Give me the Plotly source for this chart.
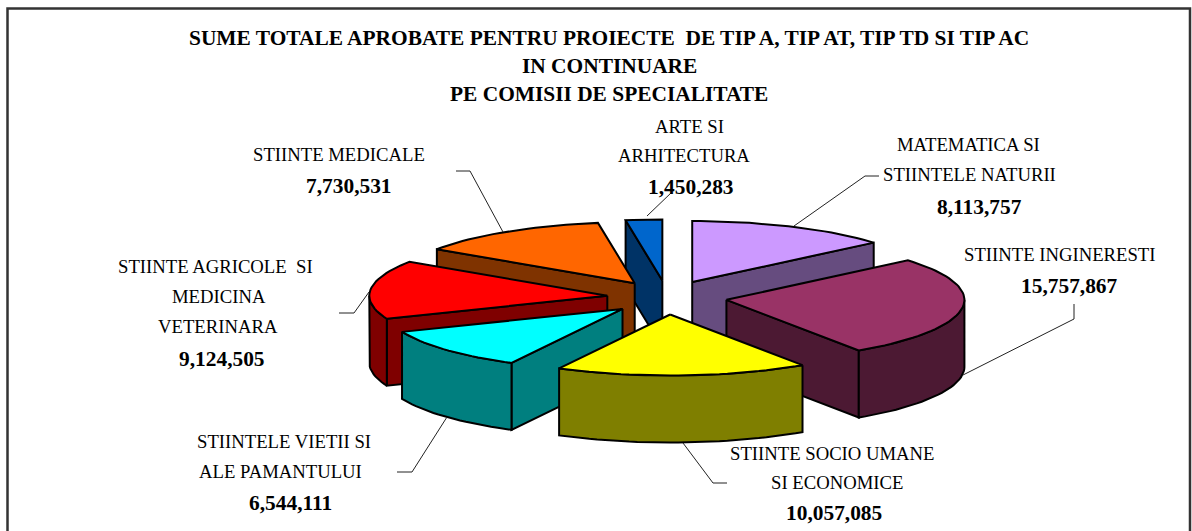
import math
import plotly.graph_objects as go

categories = ["MATEMATICA SI STIINTELE NATURII", "STIINTE INGINERESTI", "STIINTE SOCIO UMANE SI ECONOMICE",
              "STIINTELE VIETII SI ALE PAMANTULUI", "STIINTE AGRICOLE SI MEDICINA VETERINARA",
              "STIINTE MEDICALE", "ARTE SI ARHITECTURA"]
values = [8113757, 15757867, 10057085, 6544111, 9124505, 7730531, 1450283]
colors = ["#CC99FF", "#993366", "#FFFF00", "#00FFFF", "#FF0000", "#FF6600", "#0066CC"]
title_lines = ["SUME TOTALE APROBATE PENTRU PROIECTE\u00a0 DE TIP A, TIP AT, TIP TD SI TIP AC",
               "IN CONTINUARE", "PE COMISII DE SPECIALITATE"]

W, H = 1192, 531
CX, CY = 667, 297.5      # pie centre
RX, RY = 238, 61         # projected ellipse radii
EX, EY = 60, 17          # explode offset
DEPTH = 67               # wall height
SERIF = "Liberation Serif"

# back to front paint order
paint_order = [6, 0, 5, 1, 4, 3, 2]

# label lines: (text, x centre, y centre, bold)
label_layout = [
    ("ARTE SI", 689.5, 126, False), ("ARHITECTURA", 683.5, 155, False), ("1,450,283", 690.5, 187, True),
    ("MATEMATICA SI", 968, 144, False), ("STIINTELE NATURII", 969.5, 174, False), ("8,113,757", 979.5, 207, True),
    ("STIINTE INGINERESTI", 1060, 254, False), ("15,757,867", 1069.5, 286, True),
    ("STIINTE MEDICALE", 338.5, 154, False), ("7,730,531", 348.5, 186, True),
    ("STIINTE AGRICOLE\u00a0 SI", 215, 266, False), ("MEDICINA", 219, 296, False),
    ("VETERINARA", 218, 326, False), ("9,124,505", 221.5, 359, True),
    ("STIINTELE VIETII SI", 284, 441, False), ("ALE PAMANTULUI", 280.5, 471, False), ("6,544,111", 290, 503, True),
    ("STIINTE SOCIO UMANE", 832.5, 453, False), ("SI ECONOMICE", 836.5, 482, False), ("10,057,085", 833.5, 513, True),
]
leaders = [
    [(647, 216), (672, 192)],
    [(794, 226), (865, 176), (879, 176)],
    [(963, 375), (1074, 319), (1074, 304)],
    [(683, 443), (713, 483), (727, 483)],
    [(447, 417), (412, 472), (397, 472)],
    [(369, 292), (354, 313), (339, 313)],
    [(503, 232), (470, 171), (456, 171)],
]


def darker(hex_color):
    r, g, b = (int(hex_color[i:i + 2], 16) for i in (1, 3, 5))
    return "#%02X%02X%02X" % (r // 2, g // 2, b // 2)


def polygon(fig, pts, fill):
    fig.add_trace(go.Scatter(
        x=[p[0] for p in pts] + [pts[0][0]], y=[p[1] for p in pts] + [pts[0][1]],
        mode="lines", fill="toself", fillcolor=fill,
        line=dict(color="#000000", width=2), hoverinfo="skip", showlegend=False))


def rim(ax, ay, t0, t1):
    n = max(2, int(abs(t1 - t0) / 2) + 1)
    out = []
    for i in range(n + 1):
        t = math.radians(t0 + (t1 - t0) * i / n)
        out.append((ax + RX * math.sin(t), ay - RY * math.cos(t)))
    return out


def down(pts):
    return [(x, y + DEPTH) for x, y in pts]


fig = go.Figure()
total = sum(values)
spans = []
acc = 0.0
for v in values:
    spans.append((acc, acc + v / total * 360))
    acc += v / total * 360

for i in paint_order:
    t0, t1 = spans[i]
    m = math.radians((t0 + t1) / 2)
    ax, ay = CX + EX * math.sin(m), CY - EY * math.cos(m)
    top = rim(ax, ay, t0, t1)
    wall = darker(colors[i])
    if top[0][0] < ax - 0.01:
        polygon(fig, [(ax, ay), top[0], (top[0][0], top[0][1] + DEPTH), (ax, ay + DEPTH)], wall)
    if top[-1][0] > ax + 0.01:
        polygon(fig, [(ax, ay), top[-1], (top[-1][0], top[-1][1] + DEPTH), (ax, ay + DEPTH)], wall)
    a0, a1 = max(t0, 90), min(t1, 270)
    if a1 > a0:
        arc = rim(ax, ay, a0, a1)
        polygon(fig, arc + down(arc)[::-1], wall)
    polygon(fig, [(ax, ay)] + top, colors[i])

for pts in leaders:
    fig.add_trace(go.Scatter(x=[p[0] for p in pts], y=[p[1] for p in pts], mode="lines",
                             line=dict(color="#222222", width=1), hoverinfo="skip", showlegend=False))

annotations = []
for text, yc in zip(title_lines, (38, 66, 94)):
    annotations.append(dict(x=609, y=yc, text="<b>%s</b>" % text, showarrow=False, xanchor="center",
                            yanchor="middle", font=dict(family=SERIF, size=21.4, color="#000000")))
for text, x, y, bold in label_layout:
    annotations.append(dict(x=x, y=y, text="<b>%s</b>" % text if bold else text, showarrow=False,
                            xanchor="center", yanchor="middle",
                            font=dict(family=SERIF, size=21.4 if bold else 18.7, color="#000000")))

fig.update_layout(
    width=W, height=H, margin=dict(l=0, r=0, t=0, b=0), paper_bgcolor="#FFFFFF", plot_bgcolor="#FFFFFF",
    showlegend=False, annotations=annotations,
    xaxis=dict(range=[0, W], visible=False, fixedrange=True),
    yaxis=dict(range=[H, 0], visible=False, fixedrange=True),
    shapes=[dict(type="rect", xref="x", yref="y", x0=7.5, y0=8.5, x1=1190, y1=560, line=dict(color="#333333", width=2.5), layer="above")],
)
fig.write_html("out.html", config=dict(displayModeBar=False),
               post_script="document.body.style.margin='0';document.body.style.overflow='hidden';")
